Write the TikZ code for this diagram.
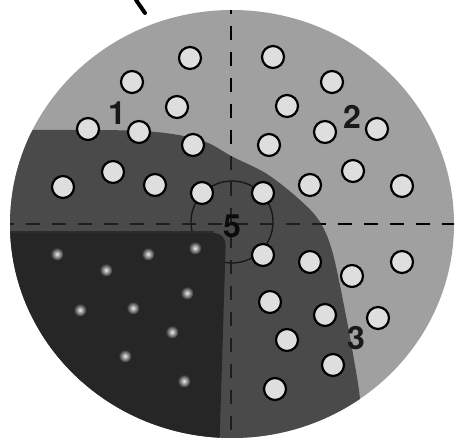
\documentclass[tikz,border=0pt]{standalone}
\usepackage{fontspec}
\setmainfont{TeX Gyre Heros}
\definecolor{lightreg}{RGB}{160,160,160}
\definecolor{midreg}{RGB}{74,74,74}
\definecolor{darkreg}{RGB}{38,38,38}
\definecolor{dotfill}{RGB}{222,222,222}
\definecolor{labelcol}{RGB}{25,25,25}
\tikzset{
  dotnode/.style={circle, draw=black, line width=2.2pt, fill=dotfill, minimum size=22pt, inner sep=0pt},
  glownode/.style={circle, minimum size=13pt, inner sep=0pt, shading=radial, inner color=white!85!gray, outer color=darkreg},
  numlabel/.style={font=\fontsize{32}{32}\selectfont\bfseries, text=labelcol, inner sep=0pt},
  divline/.style={line width=2.4pt, dash pattern=on 14pt off 12pt},
}
\begin{document}
\begin{tikzpicture}[x=1pt,y=-1pt]
\useasboundingbox (0,0) rectangle (458,442);
\fill[white] (0,0) rectangle (458,442);
% whole disc
\fill[lightreg] (232,224) ellipse [x radius=222, y radius=214];
\begin{scope}
  \clip (232,224) ellipse [x radius=222, y radius=214];
  % medium region (1 lower + 3)
  \fill[midreg] (0,129) -- plot[smooth, tension=0.55] coordinates {(31,130) (143,131) (200,140) (233,157) (267,174) (300,200) (320,222) (333,254) (347,321) (353,354) (360,399) (362,450)} -- (0,450) -- cycle;
  % circle 5
  \node[circle, draw=black!70!midreg, line width=1.3pt, minimum size=82pt, inner sep=0pt] (c5) at (232,222) {};
  % dashed quadrant lines
  \coordinate (vt) at (231,0);
  \coordinate (vb) at (231,450);
  \coordinate (hl) at (0,224);
  \coordinate (hr) at (458,224);
  \draw[divline, black!60!midreg] (vt) -- (vb);
  \draw[divline, black!60!midreg] (hl) -- (hr);
  \begin{scope}
    \clip (0,0) -- (0,129) -- plot[smooth, tension=0.55] coordinates {(31,130) (143,131) (200,140) (233,157) (267,174) (300,200) (320,222) (333,254) (347,321) (353,354) (360,399) (362,450)} -- (470,450) -- (470,0) -- cycle;
    \draw[divline, black] (vt) -- (vb);
    \draw[divline, black] (hl) -- (hr);
  \end{scope}
  % darkest region
  \fill[darkreg, rounded corners=12pt] (0,233) -- (226,233) -- (219,460) -- (0,460) -- cycle;
  \draw[black!40!midreg, line width=1.6pt] (0,232) -- (214,232);
\end{scope}
% top stroke
\draw[line width=4pt, line cap=round] (136,0) -- (145,13);
% dots
\foreach \n/\x/\y in {a1/190/58, a2/273/57, a3/132/82, a4/332/82, a5/177/107, a6/287/106,
  a7/88/129, a8/139/132, a9/325/132, a10/377/129, a11/193/145, a12/269/145,
  a13/113/172, a14/353/171, a15/63/187, a16/155/185, a17/202/193, a18/263/193,
  a19/310/185, a20/402/186, a21/263/255, a22/310/262, a23/352/276, a24/402/262,
  a25/270/302, a26/325/315, a27/378/318, a28/287/340, a29/333/365, a30/275/389}
  {\node[dotnode] (\n) at (\x,\y) {};}
% small glowing dots
\foreach \n/\x/\y in {g1/57/254, g2/148/254, g3/195/248, g4/106/270, g5/187/293,
  g6/80/310, g7/133/308, g8/172/332, g9/125/356, g10/184/381}
  {\node[glownode] (\n) at (\x,\y) {};}
% labels
\node[numlabel] (l1) at (117,113) {1};
\node[numlabel] (l2) at (352,117) {2};
\node[numlabel] (l3) at (356,338) {3};
\node[numlabel, text=black!85!midreg] (l5) at (232,226) {5};
\end{tikzpicture}
\end{document}
